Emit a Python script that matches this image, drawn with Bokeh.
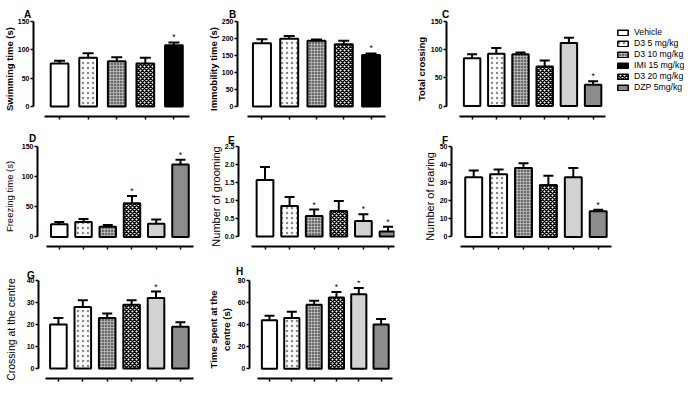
import math
from bokeh.plotting import figure
from bokeh.models import (Range1d, FixedTicker, Whisker, TeeHead, ColumnDataSource,
                          Title, Legend, LegendItem, NumeralTickFormatter)
from bokeh.layouts import row, column
from bokeh.embed import file_html
from bokeh.resources import INLINE
from bokeh.core.properties import value

FONT = "Liberation Sans"

# ---------------- data ----------------
groups_fst = ["Vehicle", "D3 5 mg/kg", "D3 10 mg/kg", "D3 20 mg/kg", "IMI 15 mg/kg"]
groups_oft = ["Vehicle", "D3 5 mg/kg", "D3 10 mg/kg", "D3 20 mg/kg", "Group 5", "DZP 5mg/kg"]

swim_mean = [76, 86, 80, 76, 108]
swim_sem = [5, 8, 7, 10, 5]
swim_sig = [0, 0, 0, 0, 1]

immob_mean = [186, 199, 193, 183, 151]
immob_sem = [12, 8, 4, 10, 5]
immob_sig = [0, 0, 0, 0, 1]

cross_mean = [85, 93, 92, 70, 112, 38]
cross_sem = [7, 10, 3, 11, 9, 6]
cross_sig = [0, 0, 0, 0, 0, 1]

freeze_mean = [21, 25, 17, 56, 22, 120]
freeze_sem = [4, 5, 3, 12, 7, 8]
freeze_sig = [0, 0, 0, 1, 0, 1]

groom_mean = [1.57, 0.85, 0.57, 0.71, 0.43, 0.14]
groom_sem = [0.36, 0.25, 0.18, 0.28, 0.19, 0.13]
groom_sig = [0, 0, 1, 0, 1, 1]

rear_mean = [33, 34.7, 38.1, 28.7, 33, 14.2]
rear_sem = [3.8, 2.6, 2.6, 5.1, 5.1, 0.8]
rear_sig = [0, 0, 0, 0, 0, 1]

centre_cross_mean = [20, 28, 23, 29, 32, 19]
centre_cross_sem = [3, 3, 2, 2, 3, 2]
centre_cross_sig = [0, 0, 0, 0, 1, 0]

centre_time_mean = [44, 46, 58, 64.6, 67.5, 40]
centre_time_sem = [4, 5.6, 3.7, 5, 5.8, 5]
centre_time_sig = [0, 0, 0, 1, 1, 0]

legend_labels = ["Vehicle", "D3 5 mg/kg", "D3 10 mg/kg", "IMI 15 mg/kg", "D3 20 mg/kg", "DZP 5mg/kg"]

# ---------------- styles ----------------
STY = {
    "veh": dict(fill_color="white", hatch_pattern=" ", hatch_color="black", hatch_scale=4, hatch_weight=1),
    "d5": dict(fill_color="white", hatch_pattern="dot", hatch_color="#8a8a8a", hatch_scale=5, hatch_weight=1),
    "d10": dict(fill_color="#6a6a6a", hatch_pattern="cross", hatch_color="#c4c4c4", hatch_scale=3, hatch_weight=0.7),
    "d20": dict(fill_color="white", hatch_pattern="diagonal_cross", hatch_color="black", hatch_scale=4, hatch_weight=1.5),
    "imi": dict(fill_color="black", hatch_pattern=" ", hatch_color="black", hatch_scale=4, hatch_weight=1),
    "light": dict(fill_color="#d2d2d2", hatch_pattern=" ", hatch_color="black", hatch_scale=4, hatch_weight=1),
    "dzp": dict(fill_color="#8c8c8c", hatch_pattern=" ", hatch_color="black", hatch_scale=4, hatch_weight=1),
}
fst_styles = ["veh", "d5", "d10", "d20", "imi"]
oft_styles = ["veh", "d5", "d10", "d20", "light", "dzp"]
legend_styles = ["veh", "d5", "d10", "imi", "d20", "dzp"]


def make_panel(letter, groups, means, sems, sig, styles, yticks, g, ytitle, tfont, fmt=None):
    n = len(means)
    bb = g["H"] - g["bt"] - g["fh"]
    # title (panel letter) needs ~11.5px + standoff above the frame
    standoff = max(0, g["lup"] - 9.3)
    need = math.ceil(11.5 + standoff)
    bt = max(g["bt"], need)
    fh = g["H"] - bt - bb
    fw = g["W"] - g["bl"] - g["br"]
    x0 = 1 - g["off"] / g["sp"]
    x1 = x0 + fw / g["sp"]
    top = yticks[-1]
    s = (fh - g["z"]) / top
    y0 = -g["z"] / s
    p = figure(width=g["W"], height=g["H"], x_range=Range1d(x0, x1), y_range=Range1d(y0, top),
               output_backend="svg", toolbar_location=None, title=None,
               min_border_left=g["bl"], min_border_right=g["br"],
               min_border_top=bt, min_border_bottom=bb)
    p.outline_line_color = None
    p.xgrid.visible = False
    p.ygrid.visible = False

    p.title = Title(text=letter, align="left", offset=g["ldx"], standoff=standoff,
                    text_font=FONT, text_font_size="10px", text_font_style="bold",
                    text_color="black", vertical_align="bottom")

    xs = list(range(1, n + 1))
    data = dict(x=xs, group=groups, top=means, upper=[m + e for m, e in zip(means, sems)])
    for key in ["fill_color", "hatch_pattern", "hatch_color", "hatch_scale", "hatch_weight"]:
        data[key] = [STY[k][key] for k in styles]
    src = ColumnDataSource(data)
    wk = Whisker(source=src, base="x", upper="upper", lower="top", dimension="height",
                 line_width=2, line_color="black",
                 upper_head=TeeHead(size=g["cap"], line_width=2, line_color="black"), lower_head=None)
    p.add_layout(wk)
    p.vbar(x="x", top="top", width=g["bw"], source=src, fill_color="fill_color",
           hatch_pattern="hatch_pattern", hatch_color="hatch_color", hatch_scale="hatch_scale",
           hatch_weight="hatch_weight", line_color="black", line_width=2)

    sx = [x for x, f in zip(xs, sig) if f]
    sy = [m + e for m, e, f in zip(means, sems, sig) if f]
    p.text(x=sx, y=sy, text=["*"] * len(sx), text_align="center", text_baseline="bottom",
           y_offset=0, text_font_size="8.5px", text_font=value(FONT), text_color="black")

    ya = p.yaxis[0]
    ya.ticker = FixedTicker(ticks=yticks)
    ya.bounds = (0, top)
    ya.axis_line_width = 2
    ya.major_tick_line_width = 1.5
    ya.major_tick_in = 0
    ya.major_tick_out = 3
    ya.minor_tick_line_color = None
    ya.major_label_standoff = 1
    ya.major_label_text_font = FONT
    ya.major_label_text_font_size = "7px"
    ya.major_label_text_font_style = "bold"
    ya.major_label_text_color = "black"
    if fmt:
        ya.formatter = NumeralTickFormatter(format=fmt)
    ya.axis_label = ytitle
    ya.axis_label_standoff = g["ast"]
    ya.axis_label_text_font = FONT
    ya.axis_label_text_font_size = tfont[0]
    ya.axis_label_text_font_style = tfont[1]
    ya.axis_label_text_color = "black"

    # x axis: unlabelled ticks under each bar (drawn as minor ticks, which carry no labels)
    xa = p.xaxis[0]
    xa.ticker = FixedTicker(ticks=[], minor_ticks=xs)
    xa.bounds = (0.47, n + 0.53)
    xa.axis_line_width = 2
    xa.major_tick_line_color = None
    xa.minor_tick_line_color = "black"
    xa.minor_tick_line_width = 1.5
    xa.minor_tick_in = 0
    xa.minor_tick_out = 3
    xa.major_label_standoff = 0
    return p


# ---------------- geometry ----------------
gA = dict(W=204, H=125, bl=29, br=10, bt=13, fh=103, z=10.4, off=26.7, sp=29.3, bw=0.62, cap=11,
          ldx=-9.5, lup=13, ast=0)
gB = dict(W=200, H=125, bl=32, br=10, bt=21, fh=96, z=10.2, off=24.6, sp=27.45, bw=0.66, cap=11,
          ldx=-8.4, lup=13.3, ast=0)
gC = dict(W=206, H=125, bl=42, br=2, bt=16, fh=101, z=11.1, off=25.6, sp=24.2, bw=0.68, cap=10,
          ldx=-4.4, lup=13.1, ast=1)
gD = dict(W=204, H=128, bl=36, br=10, bt=21, fh=102, z=9.7, off=21.9, sp=24.4, bw=0.68, cap=10,
          ldx=-8.6, lup=14.3, ast=4)
gE = dict(W=200, H=128, bl=34, br=10, bt=17, fh=104, z=10.3, off=26.5, sp=24.6, bw=0.68, cap=10,
          ldx=-10.4, lup=11.2, ast=0)
gF = dict(W=210, H=128, bl=47, br=2, bt=17, fh=104, z=9.9, off=22.2, sp=24.9, bw=0.68, cap=10,
          ldx=-9.4, lup=11.2, ast=1)
gG = dict(W=204, H=132, bl=38, br=10, bt=11, fh=114, z=11.4, off=19.9, sp=24.4, bw=0.68, cap=10,
          ldx=-11.6, lup=5.2, ast=7)
gH = dict(W=200, H=132, bl=39, br=10, bt=27, fh=98, z=9.8, off=20.8, sp=23.25, bw=0.68, cap=10,
          ldx=-13.4, lup=15.5, ast=3)

pA = make_panel("A", groups_fst, swim_mean, swim_sem, swim_sig, fst_styles, [0, 50, 100, 150], gA,
                "Swimming time (s)", ("9.5px", "bold"))
pB = make_panel("B", groups_fst, immob_mean, immob_sem, immob_sig, fst_styles, [0, 50, 100, 150, 200, 250], gB,
                "Immobility time (s)", ("9.5px", "bold"))
pC = make_panel("C", groups_oft, cross_mean, cross_sem, cross_sig, oft_styles, [0, 50, 100, 150], gC,
                "Total crossing", ("9.5px", "bold"))
pD = make_panel("D", groups_oft, freeze_mean, freeze_sem, freeze_sig, oft_styles, [0, 50, 100, 150], gD,
                "Freezing time (s)", ("9.5px", "normal"))
pE = make_panel("E", groups_oft, groom_mean, groom_sem, groom_sig, oft_styles, [0, 0.5, 1.0, 1.5, 2.0, 2.5], gE,
                "Number of grooming", ("11px", "normal"), fmt="0.0")
pF = make_panel("F", groups_oft, rear_mean, rear_sem, rear_sig, oft_styles, [0, 10, 20, 30, 40, 50], gF,
                "Number of rearing", ("11px", "normal"))
pG = make_panel("G", groups_oft, centre_cross_mean, centre_cross_sem, centre_cross_sig, oft_styles,
                [0, 10, 20, 30, 40], gG, "Crossing at the centre", ("10.5px", "normal"))
pH = make_panel("H", groups_oft, centre_time_mean, centre_time_sem, centre_time_sig, oft_styles,
                [0, 20, 40, 60, 80], gH, "Time spent at the\ncentre (s)", ("9.5px", "bold"))

# ---------------- legend panel ----------------
pL = figure(width=74, height=125, x_range=Range1d(0, 1), y_range=Range1d(0, 1),
            x_axis_type=None, y_axis_type=None, output_backend="svg", toolbar_location=None,
            title=None, min_border_left=0, min_border_right=0, min_border_top=7, min_border_bottom=0)
pL.outline_line_color = None
pL.xgrid.visible = False
pL.ygrid.visible = False
items = []
for lab, st in zip(legend_labels, legend_styles):
    r = pL.vbar(x=[float("nan")], top=[float("nan")], width=0.5, line_color="black", line_width=1.5, **STY[st])
    items.append(LegendItem(label=lab, renderers=[r]))
leg = Legend(items=items, location="top_left", margin=6, padding=0, spacing=1,
             glyph_width=13, glyph_height=7, label_standoff=5, label_height=10,
             label_text_font=FONT, label_text_font_size="8.7px", label_text_color="black",
             border_line_color=None, background_fill_alpha=0)
pL.add_layout(leg)

layout = column(row(pA, pB, pC, pL), row(pD, pE, pF), row(pG, pH))
open("out.html", "w").write(file_html(layout, INLINE))
